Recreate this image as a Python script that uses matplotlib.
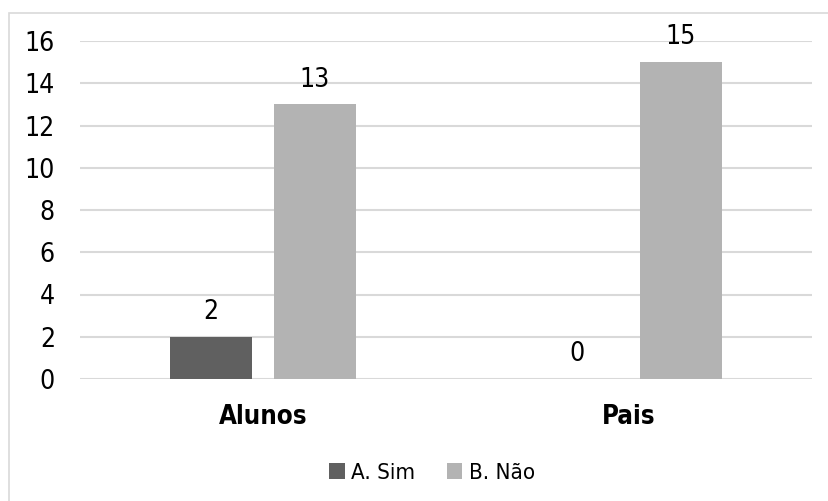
import matplotlib
matplotlib.use("Agg")
import matplotlib.pyplot as plt
import numpy as np
from matplotlib.patches import Rectangle

plt.rcParams["font.family"] = ["DejaVu Sans"]
plt.rcParams["font.stretch"] = "condensed"

categories = ["Alunos", "Pais"]
series_names = ["A. Sim", "B. Não"]
sim_values = [2, 0]
nao_values = [13, 15]
y_ticks = [0, 2, 4, 6, 8, 10, 12, 14, 16]

colors = ["#606060", "#b3b3b3"]

fig = plt.figure(figsize=(8.29, 5.01), dpi=100)
ax = fig.add_axes([80 / 829, 1 - 379 / 501, 732 / 829, 338 / 501])

x = np.arange(len(categories))
width = 0.224
offset = 0.142

bars_sim = ax.bar(x - offset, sim_values, width, color=colors[0], label=series_names[0], zorder=3)
bars_nao = ax.bar(x + offset, nao_values, width, color=colors[1], label=series_names[1], zorder=3)

for bars in (bars_sim, bars_nao):
    for b in bars:
        h = b.get_height()
        ax.annotate(f"{h:g}", (b.get_x() + b.get_width() / 2, h),
                    xytext=(0, 8.5), textcoords="offset points",
                    ha="center", va="bottom", fontsize=19, color="#000000")

ax.set_xlim(-0.5, 1.5)
ax.set_ylim(0, 16)
ax.set_yticks(y_ticks)
ax.set_yticklabels([str(t) for t in y_ticks], fontsize=19)
ax.set_xticks(x)
ax.set_xticklabels(categories, fontsize=18.5, fontweight="bold")
ax.tick_params(axis="both", length=0)
ax.tick_params(axis="y", pad=18)
ax.tick_params(axis="x", pad=18)

ax.grid(axis="y", color="#d9d9d9", linewidth=1.5, zorder=0)
for s in ax.spines.values():
    s.set_visible(False)

leg = fig.legend(loc="center", bbox_to_anchor=(432 / 829, 1 - 473 / 501),
                 ncol=2, frameon=False, fontsize=16,
                 handlelength=0.7, handleheight=0.7, handletextpad=0.3,
                 columnspacing=1.4)

fig.patches.append(Rectangle((9.5 / 829, -0.1), 1.2, 1 - 12.5 / 501 + 0.1,
                             transform=fig.transFigure, fill=False,
                             edgecolor="#d9d9d9", linewidth=1.2))

fig.savefig("out.png", dpi=100)
